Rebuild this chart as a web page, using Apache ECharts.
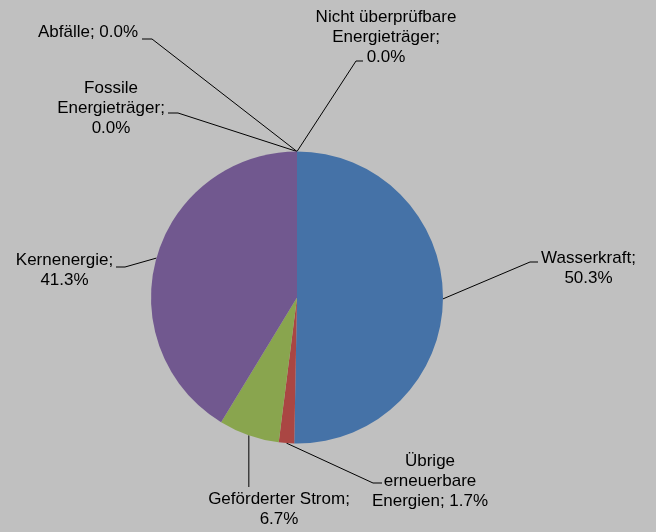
<!DOCTYPE html>
<html><head><meta charset="utf-8">
<script src="https://cdn.jsdelivr.net/npm/echarts@6/dist/echarts.min.js"></script>
<style>html,body{margin:0;padding:0;background:#c0c0c0}#c{width:656px;height:532px}</style>
</head><body><div id="c"></div>
<script>
const categories = ['Wasserkraft', 'Übrige erneuerbare Energien', 'Geförderter Strom', 'Kernenergie', 'Fossile Energieträger', 'Abfälle', 'Nicht überprüfbare Energieträger'];
const values = [50.3, 1.7, 6.7, 41.3, 0.0, 0.0, 0.0];
const labelNames = ['Wasserkraft;\n', 'Übrige\nerneuerbare\nEnergien; ', 'Geförderter Strom;\n', 'Kernenergie;\n', 'Fossile\nEnergieträger;\n', 'Abfälle; ', 'Nicht überprüfbare\nEnergieträger;\n'];
const colors = ['#4572a7', '#aa4643', '#89a54e', '#71588f', '#4198af', '#db843d', '#93a9cf'];

// label placement (centre x, top y) and leader-line bend points
const labelPlacement = [
  { x: 588.5, y: 248, line: [[530, 262], [538, 262]] },
  { x: 430, y: 451, line: [[373, 483], [382, 483]] },
  { x: 279, y: 489, line: [[null, 487]] },
  { x: 64.5, y: 250, line: [[125, 267], [116, 267]] },
  { x: 111, y: 78, line: [[178, 113], [168, 113]] },
  { x: 88, y: 22, line: [[152, 39], [142, 39]] },
  { x: 386, y: 7, line: [[356, 61], [363, 61]] }
];

const chart = echarts.init(document.getElementById('c'), null, { renderer: 'canvas' });
chart.setOption({
  backgroundColor: '#c0c0c0',
  animation: false,
  series: [{
    type: 'pie',
    center: [297, 297.5],
    radius: 146,
    startAngle: 90,
    clockwise: true,
    avoidLabelOverlap: false,
    minShowLabelAngle: 0,
    itemStyle: { borderWidth: 0 },
    label: {
      show: true,
      position: 'outside',
      fontFamily: '"Liberation Sans", Arial, sans-serif',
      fontSize: 17,
      lineHeight: 20,
      color: '#000',
      align: 'center',
      formatter: p => labelNames[p.dataIndex] + p.value.toFixed(1) + '%'
    },
    labelLine: { show: true, length: 10, length2: 10, lineStyle: { color: '#000', width: 1 } },
    labelLayout: function (params) {
      const lp = labelPlacement[params.dataIndex];
      const start = params.labelLinePoints ? params.labelLinePoints[0] : [297, 151.5];
      const pts = [start].concat(lp.line.map(p => [p[0] == null ? start[0] : p[0], p[1]]));
      return { x: lp.x, y: lp.y, align: 'center', verticalAlign: 'top', labelLinePoints: pts };
    },
    data: categories.map((c, i) => ({ name: c, value: values[i], itemStyle: { color: colors[i] } }))
  }]
});
</script></body></html>
